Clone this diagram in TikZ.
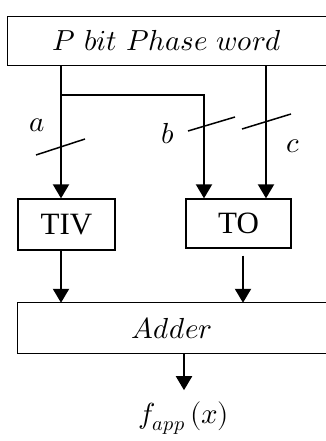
\documentclass[tikz,border=0pt]{standalone}
\usepackage{fontspec}
\usepackage{unicode-math}
\newfontfamily\boxfont{Liberation Serif}
\usetikzlibrary{arrows.meta}

\tikzset{
  block/.style={draw, line width=1.3pt, inner sep=0pt},
  openblock/.style={inner sep=0pt},
  flow/.style={line width=2pt, -{Triangle[width=16pt,length=14pt]}},
  busmark/.style={line width=1.5pt},
  mathlabel/.style={inner sep=0pt, font=\fontsize{29}{32}\selectfont},
}

\begin{document}
\begin{tikzpicture}[x=1pt,y=-1pt]
\useasboundingbox (0,0) rectangle (326,441);
\clip (0,0) rectangle (326,441);

% boxes
\node[openblock, minimum width=318pt, minimum height=49pt, mathlabel] (word) at (167,41) {$P\ bit\ Phase\ word$};
\draw[line width=1.3pt] (word.north east) -- (word.north west) -- (word.south west) -- (word.south east);

\node[block, minimum width=97pt, minimum height=51pt, font=\boxfont\fontsize{31}{34}\selectfont] (tiv) at (66.5,224.5) {TIV};
\node[block, minimum width=105pt, minimum height=49pt, font=\boxfont\fontsize{31}{34}\selectfont] (to) at (238.5,223.5) {TO};

\node[openblock, minimum width=308pt, minimum height=50pt, mathlabel] (adder) at (172,328) {$Adder$};
\draw[line width=1.3pt] (adder.north east) -- (adder.north west) -- (adder.south west) -- (adder.south east);

\node[mathlabel] (out) at (184,418) {$f_{app}\,(x)$};

% column positions of the connectors
\coordinate (xa) at (61,0);
\coordinate (xb) at (204,0);
\coordinate (xc) at (266,0);
\coordinate (xo) at (243,0);
\coordinate (split) at (61,95);

% connectors from the phase word
\draw[flow] (word.south -| xa) -- (tiv.north -| xa);
\draw[flow] (split) -- (split -| xb) -- (to.north -| xb);
\draw[flow] (word.south -| xc) -- (to.north -| xc);

% bus width marks
\draw[busmark] (36,155) -- (85,139);
\draw[busmark] (188,131) -- (235,117);
\draw[busmark] (242,129) -- (291,114);

\node[mathlabel] (la) at (37,125) {$a$};
\node[mathlabel] (lb) at (168,134) {$b$};
\node[mathlabel] (lc) at (293,146) {$c$};

% into the adder
\draw[flow] (tiv.south -| xa) -- (adder.north -| xa);
\draw[flow] ([yshift=-7pt]to.south -| xo) -- (adder.north -| xo);

% output
\draw[flow] (adder.south -| out) -- ++(0,37);
\end{tikzpicture}
\end{document}
